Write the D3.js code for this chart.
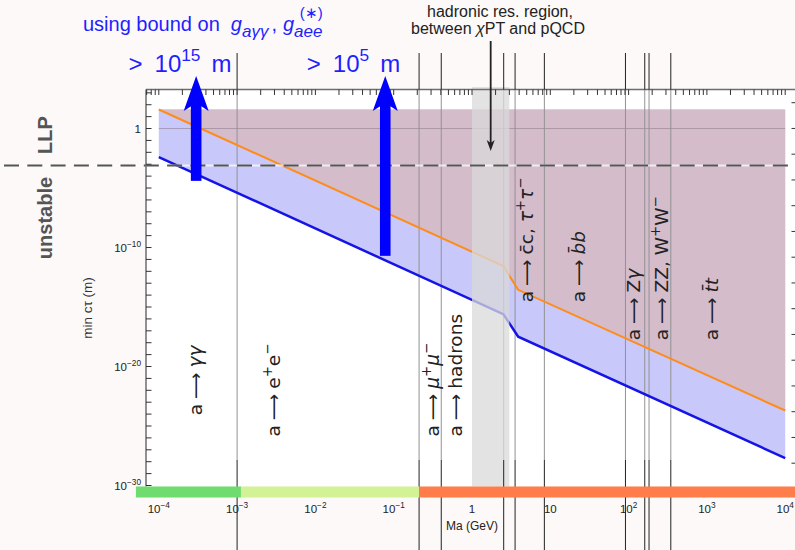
<!DOCTYPE html>
<html>
<head>
<meta charset="utf-8">
<script src="https://cdn.jsdelivr.net/npm/d3@7"></script>
<style>
body { margin: 0; background: #fcf9f8; }
svg { display: block; font-family: "Liberation Sans", Arial, sans-serif; }
</style>
</head>
<body>
<div id="chart"></div>
<script>
/****************************
  * Data
  ***************************/

// mass knots (GeV) where the lifetime bounds bend
var massKnots = [1e-4, 2.51, 3.89, 1e4];
// upper (orange) and lower (blue) bound on min c*tau (m)
var orangeCtau = [40, 2.8e-12, 2.8e-14, 2.0e-24];
var blueCtau = [4.0e-3, 2.5e-16, 3.2e-18, 2.0e-28];
// top of the shaded region (m)
var capCtau = 40;
// LLP / unstable boundary (m)
var llpCtau = 8e-4;

// decay thresholds (GeV)
var thresholds = [1.0e-3, 0.211, 0.405, 2.54, 3.55, 8.4, 91.2, 160.8, 182.4, 346];
// hadronic resonance region (GeV)
var hadronBand = [1, 3];

// bottom colour bar segments (GeV)
var barStart = [5.1e-5, 1.12e-3, 0.211];
var barEnd = [1.12e-3, 0.211, 2.2e4];
var barColors = ['#6edc6e', '#d2f295', '#ff7d4b'];

// blue arrows: mass, c*tau of the arrow foot, label exponent
var arrowMass = [3e-4, 0.078];
var arrowFoot = [4e-5, 2e-11];
var arrowExp = ['15', '5'];

// decay channel labels: mass, c*tau at the foot of the text, text pieces
var decayMass = [2.9e-4, 2.9e-3, 0.31, 0.61, 5.0, 22.6, 114, 264, 1150];
var decayFoot = [8e-25, 1.3e-26, 1.3e-26, 1.3e-26, 2.5e-15, 2.5e-15, 1.6e-18, 1.6e-18, 1.6e-18];
var decayParts = [
    [{t: 'γγ', it: true}],
    [{t: 'e'}, {t: '+', sup: true}, {t: 'e'}, {t: '−', sup: true}],
    [{t: 'μ', it: true}, {t: '+', sup: true}, {t: 'μ', it: true}, {t: '−', sup: true}],
    [{t: 'hadrons'}],
    [{t: 'c̄c, '}, {t: 'τ', it: true}, {t: '+', sup: true}, {t: 'τ', it: true}, {t: '−', sup: true}],
    [{t: 'b̄b', it: true}],
    [{t: 'Z'}, {t: 'γ', it: true}],
    [{t: 'ZZ, W'}, {t: '+', sup: true}, {t: 'W'}, {t: '−', sup: true}],
    [{t: 't̄t', it: true}]
];

// axis ticks
var yLabelVals = [1e-30, 1e-20, 1e-10, 1];
var yLabelExp = ['−30', '−20', '−10', ''];
var xLabelVals = [1e-4, 1e-3, 1e-2, 1e-1, 1, 10, 1e2, 1e3, 1e4];
var xLabelExp = ['−4', '−3', '−2', '−1', '', '', '2', '3', '4'];
var rightTicks = d3.range(-13, 2);

/****************************
  * Setup
  ***************************/

var W = 795, H = 550;
var frame = {left: 146, top: 89.5, right: 797, bottom: 486.5};

var svg = d3.select('#chart').append('svg')
    .attr('width', W).attr('height', H);

svg.append('rect').attr('width', W).attr('height', H).attr('fill', '#fcf9f8');

var x = d3.scaleLog()
    .domain([Math.pow(10, -4.1635), Math.pow(10, 4.1507)])
    .range([frame.left, frame.right]);
var y = d3.scaleLog()
    .domain([1e-30, Math.pow(10, 3.28)])
    .range([485.5, frame.top]);
var yRight = d3.scaleLinear().domain([-13, 1]).range([463.2, 102.7]);

// adds text with super/subscripts made of tspans
function richText(sel, parts, size) {
    var shift = 0, nodes = [];
    parts.forEach(function(p) {
        var target = p.sup ? -0.42 * size : (p.sub ? 0.3 * size : 0);
        var t = sel.append('tspan').text(p.t).attr('dy', target - shift);
        if (p.sup || p.sub) t.style('font-size', (size * (p.scale || 0.72)) + 'px');
        if (p.it) t.style('font-style', 'italic');
        if (p.dx) t.attr('dx', p.dx);
        if (p.font) t.style('font-family', p.font);
        shift = target;
        nodes.push(t);
    });
    return nodes;
}

/****************************
  * Plot area
  ***************************/

svg.append('rect')
    .attr('x', frame.left).attr('y', frame.top)
    .attr('width', frame.right - frame.left).attr('height', frame.bottom - frame.top)
    .attr('fill', '#ffffff');

var pts = massKnots.map(function(m, i) { return {m: m, o: orangeCtau[i], b: blueCtau[i]}; });

// blue band: from lower bound up to the cap
svg.append('path')
    .datum(pts)
    .attr('d', d3.area().x(function(d) { return x(d.m); })
        .y0(function(d) { return y(d.b); }).y1(y(capCtau)))
    .attr('fill', '#c8c8fa');

// purple region above the upper bound
svg.append('path')
    .datum(pts)
    .attr('d', d3.area().x(function(d) { return x(d.m); })
        .y0(function(d) { return y(d.o); }).y1(y(capCtau)))
    .attr('fill', '#d4bccb');

// grid line at c*tau = 1 m
svg.append('line')
    .attr('x1', x(massKnots[0])).attr('x2', x(massKnots[massKnots.length - 1]))
    .attr('y1', y(1)).attr('y2', y(1))
    .attr('stroke', '#8a7a86').attr('stroke-opacity', 0.55).attr('stroke-width', 1);

// threshold lines, light inside the frame
svg.selectAll('.thrIn').data(thresholds).enter().append('line')
    .attr('x1', function(d) { return x(d); }).attr('x2', function(d) { return x(d); })
    .attr('y1', frame.top).attr('y2', 460)
    .attr('stroke', '#929292').attr('stroke-width', 1);

// the two bounds
svg.append('path').datum(pts)
    .attr('d', d3.line().x(function(d) { return x(d.m); }).y(function(d) { return y(d.o); }))
    .attr('fill', 'none').attr('stroke', '#ff8c1a').attr('stroke-width', 2);
svg.append('path').datum(pts)
    .attr('d', d3.line().x(function(d) { return x(d.m); }).y(function(d) { return y(d.b); }))
    .attr('fill', 'none').attr('stroke', '#1414e6').attr('stroke-width', 2.5);

// hadronic resonance band
svg.append('rect')
    .attr('x', x(hadronBand[0])).attr('y', 87)
    .attr('width', x(hadronBand[1]) - x(hadronBand[0])).attr('height', frame.bottom - 87)
    .attr('fill', '#d9d9d9').attr('fill-opacity', 0.75);

// LLP boundary, dashed across the whole picture
svg.append('line')
    .attr('x1', 0).attr('x2', W).attr('y1', y(llpCtau)).attr('y2', y(llpCtau))
    .attr('stroke', '#ffffff').attr('stroke-opacity', 0.7).attr('stroke-width', 2);
svg.append('line')
    .attr('x1', 4).attr('x2', W).attr('y1', y(llpCtau)).attr('y2', y(llpCtau))
    .attr('stroke', '#555').attr('stroke-width', 2)
    .attr('stroke-dasharray', '15,8.3');

/****************************
  * Frame and ticks
  ***************************/

var frameColor = '#6e6e6e';
svg.append('line').attr('x1', frame.left).attr('x2', frame.right)
    .attr('y1', frame.top).attr('y2', frame.top)
    .attr('stroke', frameColor).attr('stroke-width', 1.5);
svg.append('line').attr('x1', frame.left).attr('x2', frame.left)
    .attr('y1', frame.top).attr('y2', frame.bottom)
    .attr('stroke', frameColor).attr('stroke-width', 1.5);

// top ticks (log minor ticks)
svg.selectAll('.topTick').data(x.ticks()).enter().append('line')
    .attr('x1', function(d) { return x(d); }).attr('x2', function(d) { return x(d); })
    .attr('y1', frame.top).attr('y2', frame.top + 5.5)
    .attr('stroke', '#333').attr('stroke-width', 1);

// left ticks, one per decade
var decades = d3.range(-30, 4).map(function(e) { return Math.pow(10, e); });
svg.selectAll('.leftTick').data(decades).enter().append('line')
    .attr('x1', frame.left).attr('x2', frame.left + 5.5)
    .attr('y1', function(d) { return y(d); }).attr('y2', function(d) { return y(d); })
    .attr('stroke', '#333').attr('stroke-width', 1);

// right ticks
svg.selectAll('.rightTick').data(rightTicks).enter().append('line')
    .attr('x1', frame.right - 5.5).attr('x2', frame.right)
    .attr('y1', function(d) { return yRight(d); }).attr('y2', function(d) { return yRight(d); })
    .attr('stroke', '#333').attr('stroke-width', 1);

// threshold lines, dark outside the frame
svg.selectAll('.thrTop').data(thresholds).enter().append('line')
    .attr('x1', function(d) { return x(d); }).attr('x2', function(d) { return x(d); })
    .attr('y1', 53).attr('y2', frame.top)
    .attr('stroke', '#222').attr('stroke-width', 1);
svg.selectAll('.thrBot').data(thresholds).enter().append('line')
    .attr('x1', function(d) { return x(d); }).attr('x2', function(d) { return x(d); })
    .attr('y1', 460).attr('y2', H)
    .attr('stroke', '#222').attr('stroke-width', 1);

// colour bar along the mass axis
svg.selectAll('.bar').data(barStart).enter().append('rect')
    .attr('x', function(d) { return x(d); })
    .attr('width', function(d, i) { return x(barEnd[i]) - x(d); })
    .attr('y', 486.5).attr('height', 11)
    .attr('fill', function(d, i) { return barColors[i]; });

// y tick labels
yLabelVals.forEach(function(v, i) {
    var t = svg.append('text')
        .attr('x', 141).attr('y', y(v) + 4.5)
        .attr('text-anchor', 'end')
        .style('font-size', '11.5px').attr('fill', '#222');
    if (yLabelExp[i] === '') t.text('1');
    else richText(t, [{t: '10'}, {t: yLabelExp[i], sup: true}], 11.5);
});

// x tick labels
xLabelVals.forEach(function(v, i) {
    var t = svg.append('text')
        .attr('x', x(v)).attr('y', 513)
        .attr('text-anchor', 'middle')
        .style('font-size', '11.5px').attr('fill', '#222');
    if (v === 1) t.text('1');
    else if (v === 10) t.text('10');
    else richText(t, [{t: '10'}, {t: xLabelExp[i], sup: true}], 11.5);
});

svg.append('text')
    .attr('x', x(1)).attr('y', 530)
    .attr('text-anchor', 'middle')
    .style('font-size', '12px').attr('fill', '#222')
    .text('Ma (GeV)');

svg.append('text')
    .attr('transform', 'translate(92,308) rotate(-90)')
    .attr('text-anchor', 'middle')
    .style('font-size', '13.5px').attr('fill', '#333')
    .text('min cτ (m)');

/****************************
  * Annotations
  ***************************/

svg.append('text')
    .attr('transform', 'translate(52,135) rotate(-90)')
    .attr('text-anchor', 'middle')
    .style('font-size', '20px').style('font-weight', 'bold').attr('fill', '#555')
    .text('LLP');
svg.append('text')
    .attr('transform', 'translate(52,218) rotate(-90)')
    .attr('text-anchor', 'middle')
    .style('font-size', '20px').style('font-weight', 'bold').attr('fill', '#555')
    .text('unstable');

// decay channel labels, reading upwards
var labelSize = 18.5;
decayParts.forEach(function(parts, i) {
    var t = svg.append('text')
        .attr('transform', 'translate(' + (x(decayMass[i]) + 6.5) + ',' + y(decayFoot[i]) + ') rotate(-90)')
        .attr('text-anchor', 'start')
        .style('font-family', '"DejaVu Sans", sans-serif')
        .style('font-size', labelSize + 'px').attr('fill', '#222');
    var head = [{t: 'a'}, {t: '⟶', dx: 5}];
    var rest = parts.map(function(p, j) {
        return j === 0 ? Object.assign({dx: 5}, p) : p;
    });
    richText(t, head.concat(rest), labelSize);
});

// hadronic region note and arrow
var hadX = x(Math.sqrt(hadronBand[0] * hadronBand[1]));
svg.append('text').attr('x', 500).attr('y', 16.5).attr('text-anchor', 'middle')
    .style('font-size', '16px').attr('fill', '#222')
    .text('hadronic res. region,');
var t2 = svg.append('text').attr('x', 498).attr('y', 34).attr('text-anchor', 'middle')
    .style('font-size', '16px').attr('fill', '#222');
richText(t2, [{t: 'between '}, {t: 'χ', it: true}, {t: 'PT and pQCD'}], 16);

svg.append('line')
    .attr('x1', hadX).attr('x2', hadX).attr('y1', 41).attr('y2', 145)
    .attr('stroke', '#222').attr('stroke-width', 1.8);
svg.append('path')
    .attr('d', 'M' + hadX + ',151 l-4,-11 l4,3 l4,-3 z')
    .attr('fill', '#222');

// title over the blue bound arrows
var blue = '#0000ff';
var titleSize = 20;
var titleText = svg.append('text').attr('x', 83).attr('y', 31)
    .style('font-size', titleSize + 'px').attr('fill', '#1f1fff');
var tn = richText(titleText, [{t: 'using bound on'}, {t: 'g', it: true, dx: 11},
    {t: 'aγγ', sub: true, it: true, scale: 0.85},
    {t: ',', dx: 3}, {t: 'g', it: true, dx: 6}, {t: 'aee', sub: true, it: true, scale: 0.85}], titleSize);
var aee = tn[tn.length - 1].node();
var aeeMid = (aee.getStartPositionOfChar(0).x + aee.getEndPositionOfChar(2).x) / 2;
svg.append('text').attr('x', aeeMid + 3).attr('y', 18)
    .attr('text-anchor', 'middle')
    .style('font-size', '15px').attr('fill', '#1f1fff')
    .text('(∗)');

arrowMass.forEach(function(m, i) {
    var ax = x(m), tip = 76, foot = y(arrowFoot[i]);
    svg.append('rect')
        .attr('x', ax - 5.3).attr('y', tip + 24)
        .attr('width', 10.6).attr('height', foot - tip - 24)
        .attr('fill', blue);
    svg.append('path')
        .attr('d', 'M' + ax + ',' + tip + ' l12.5,35 l-12.5,-8 l-12.5,8 z')
        .attr('fill', blue);
});

var arrowLabelX = [180, 353.5];
arrowExp.forEach(function(e, i) {
    var t = svg.append('text').attr('x', arrowLabelX[i]).attr('y', 71.5)
        .attr('text-anchor', 'middle')
        .style('font-size', '24px').attr('fill', '#1f1fff');
    richText(t, [{t: '>'}, {t: '10', dx: 12}, {t: e, sup: true}, {t: 'm', dx: 11}], 24);
});
</script>
</body>
</html>
